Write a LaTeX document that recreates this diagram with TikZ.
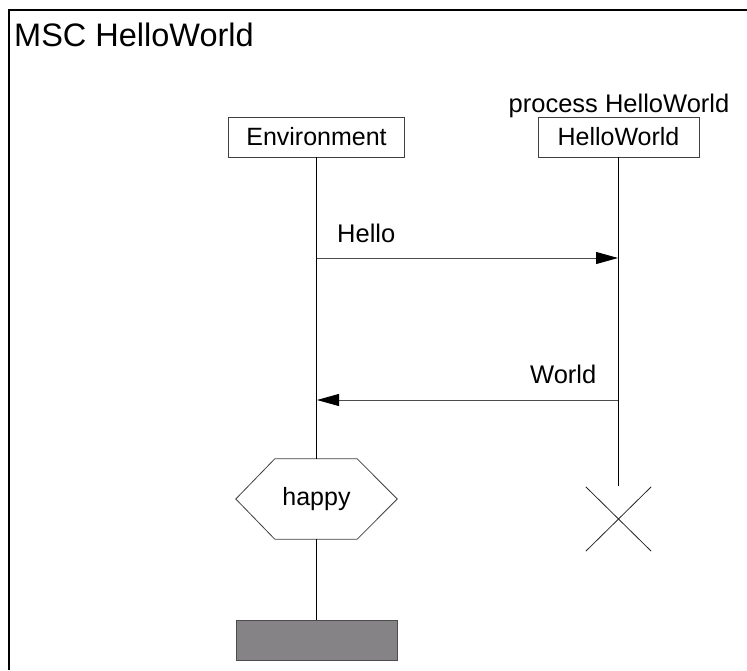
\documentclass[tikz,border=0pt]{standalone}
\usepackage{fontspec}
\setmainfont{Liberation Sans}
\usetikzlibrary{arrows.meta,calc}
\begin{document}
\begin{tikzpicture}[x=1pt,y=-1pt,
  box/.style={draw=black!75,line width=0.8pt,fill=white,inner sep=0pt,minimum height=40pt,font=\fontsize{25}{30}\selectfont},
  lifeline/.style={draw=black,line width=0.8pt},
  msg/.style={draw=black!70,line width=0.9pt,-{Triangle[length=22pt,width=12pt,color=black]}},
  lbl/.style={font=\fontsize{25.5}{30}\selectfont,anchor=base west,inner sep=0pt},
  frameline/.style={draw=black,line width=2pt}]
\useasboundingbox (0,0) rectangle (747,670);
% frame
\coordinate (ftr) at (747,10);
\coordinate (ftl) at (9,10);
\coordinate (fbl) at (9,670);
\draw[frameline] (ftr) -- (ftl) -- (fbl);
\node[font=\fontsize{32.5}{38}\selectfont,anchor=base west,inner sep=0pt] (title) at (14,46) {MSC HelloWorld};
% instance heads
\node[box,minimum width=176pt] (env) at (316.5,137) {Environment};
\node[box,minimum width=161pt] (hw) at (618.5,137) {HelloWorld};
\node[lbl,anchor=base] (proc) at (619,112) {process HelloWorld};
% condition and end
\node[inner sep=0pt,minimum width=161pt,minimum height=80pt,font=\fontsize{25}{30}\selectfont] (hap) at (316.5,499) {happy};
\draw[draw=black!75,line width=0.8pt] (hap.west) -- ($(hap.north west)+(39,0)$) -- ($(hap.north east)+(-40,0)$) -- (hap.east) -- ($(hap.south east)+(-40,0)$) -- ($(hap.south west)+(39,0)$) -- cycle;
\node[box,minimum width=161pt,fill={rgb,255:red,133;green,131;blue,133},draw=black!70] (endbar) at (316.5,640) {};
% lifelines
\draw[lifeline] (env.south) -- (hap.north);
\draw[lifeline] (hap.south) -- (endbar.north);
\coordinate (hwend) at (618.5,486);
\draw[lifeline] (hw.south) -- (hwend);
% stop
\node[inner sep=0pt,minimum width=65pt,minimum height=64pt] (stop) at (618.5,519) {};
\draw[draw=black!85,line width=0.8pt] (stop.north west) -- (stop.south east);
\draw[draw=black!85,line width=0.8pt] (stop.south west) -- (stop.north east);
% messages
\coordinate (e1) at (317,258);
\coordinate (h1) at (618,258);
\coordinate (e2) at (317,400);
\coordinate (h2) at (618,400);
\draw[msg] (e1) -- (h1);
\draw[msg] (h2) -- (e2);
\node[lbl] (hello) at (337,242) {Hello};
\node[lbl] (world) at (530,383) {World};
\end{tikzpicture}
\end{document}
